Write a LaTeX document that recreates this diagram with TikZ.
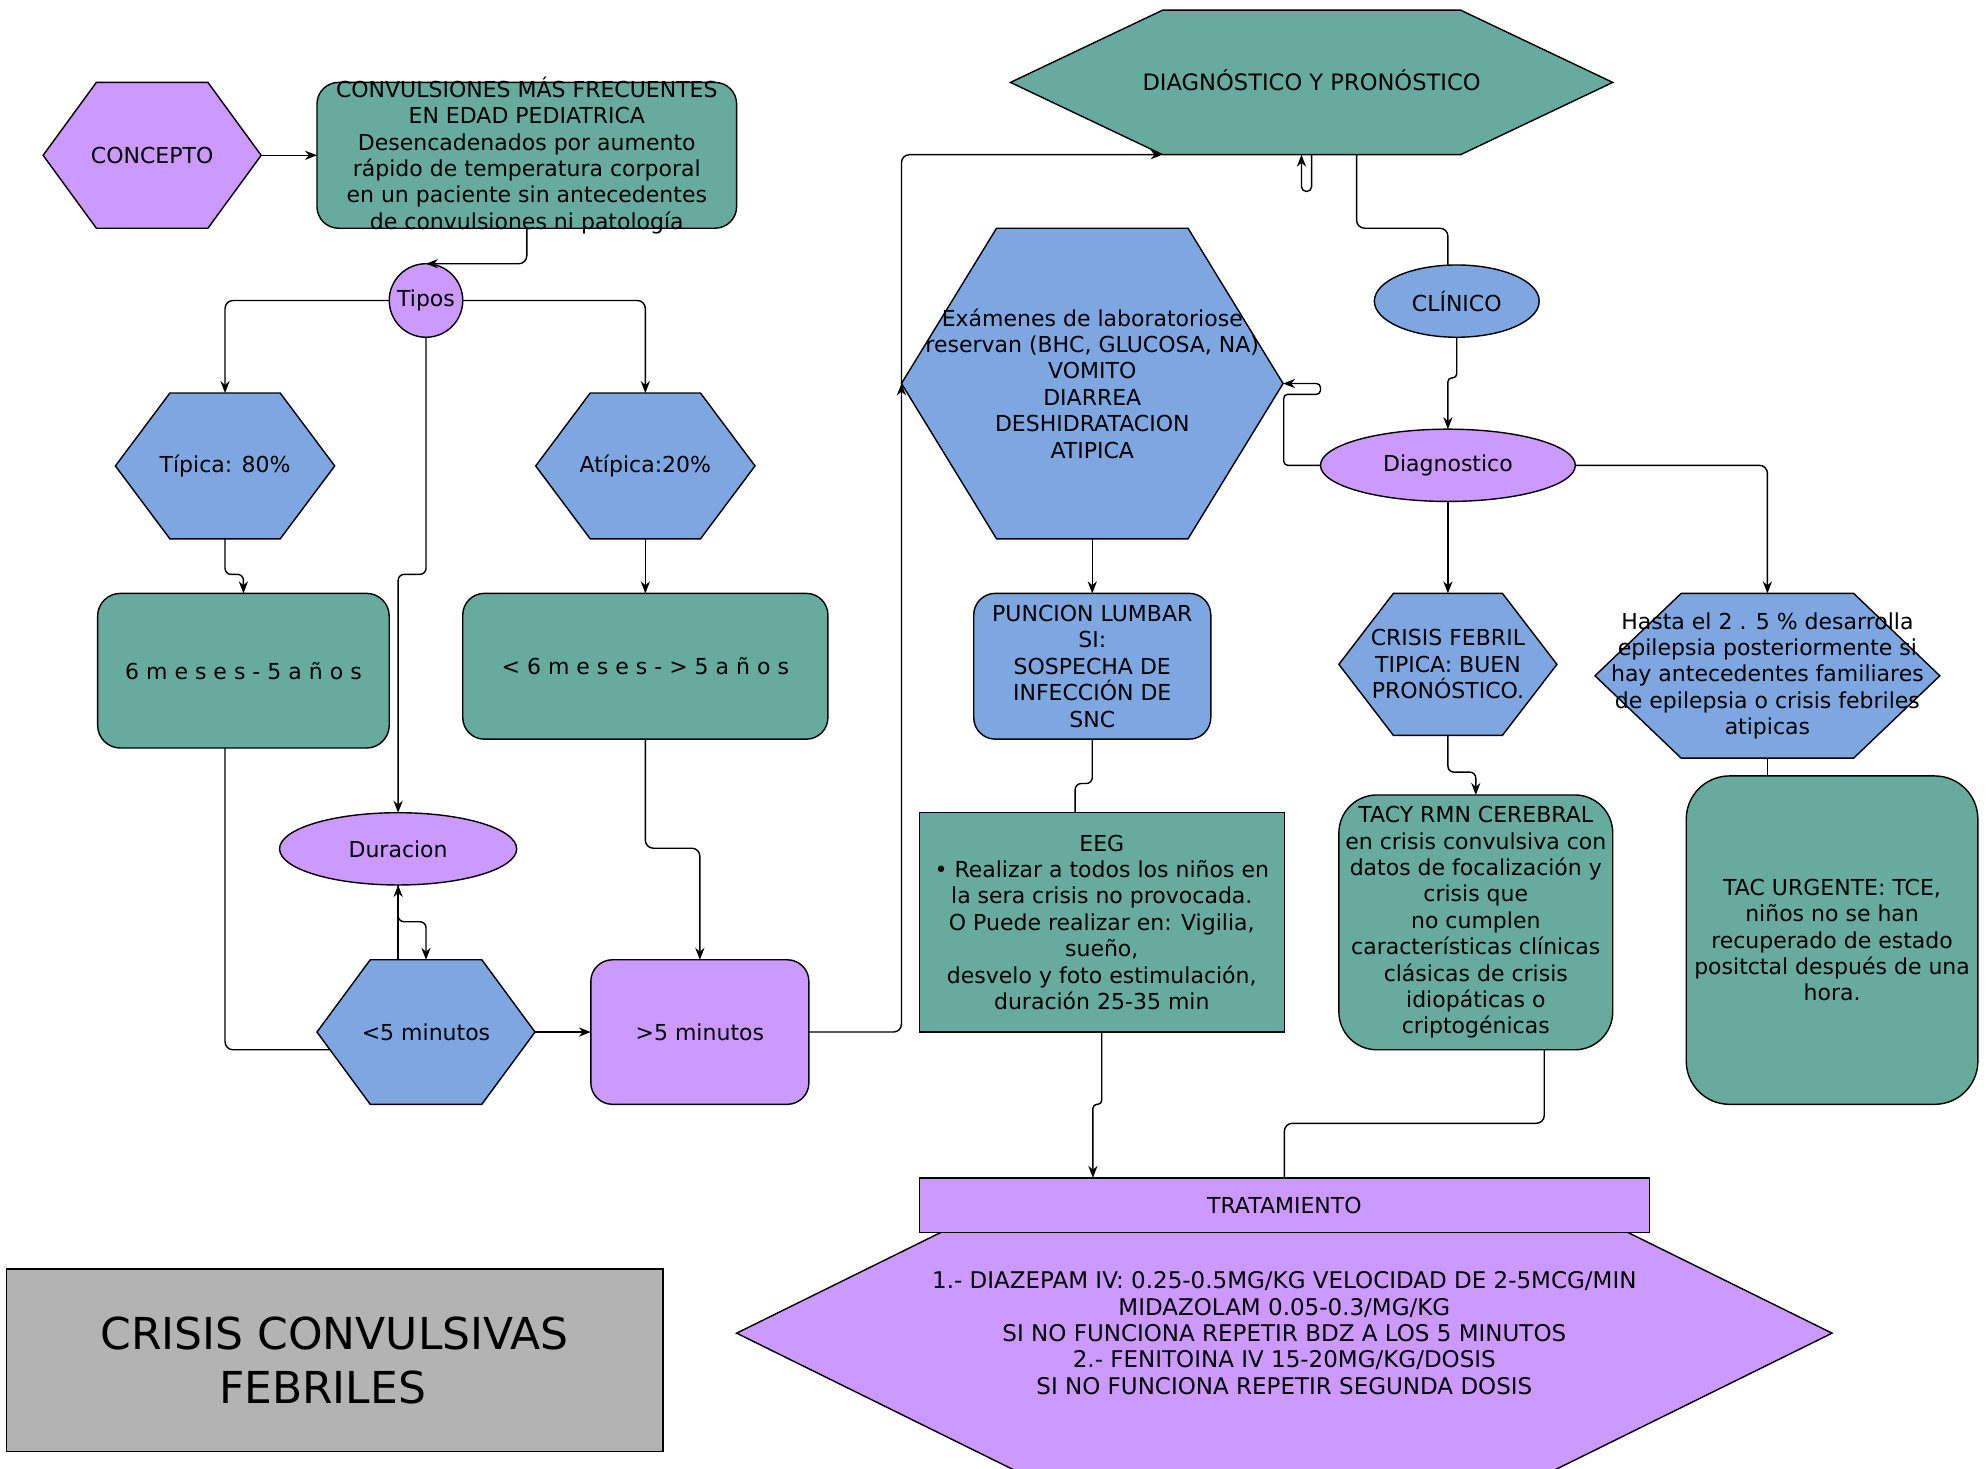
\documentclass[tikz,border=0pt]{standalone}
\usepackage{fontspec}
\setmainfont{DejaVu Sans}
\usetikzlibrary{arrows.meta,shapes.geometric,calc}
\definecolor{tealc}{HTML}{67AB9F}
\definecolor{purp}{HTML}{CC99FF}
\definecolor{blu}{HTML}{7EA6E0}
\definecolor{gry}{HTML}{B3B3B3}
\tikzset{
 ln/.style={line width=0.7pt},
 txt/.style={font=\fontsize{11}{13.2}\selectfont, align=center, inner sep=0pt},
 sz/.style 2 args={minimum width=#1*0.634pt, minimum height=#2*0.634pt},
 shp/.style={draw, ln, inner sep=0pt, outer sep=0pt},
 conn/.style={draw, ln, rounded corners=4pt},
 arr/.style={-{Stealth[length=6pt,width=4.6pt]}},
}
\newcommand\hexnode[8]{%
  \filldraw[ln, fill=#7] ({#2-#4/2},#3) -- ({#2-#4/2+#6},{#3-#5/2}) -- ({#2+#4/2-#6},{#3-#5/2})
    -- ({#2+#4/2},#3) -- ({#2+#4/2-#6},{#3+#5/2}) -- ({#2-#4/2+#6},{#3+#5/2}) -- cycle;
  \coordinate (#1-tl) at ({#2-#4/2+#6},{#3-#5/2});
  \coordinate (#1-bl) at ({#2-#4/2+#6},{#3+#5/2});
  \node[inner sep=0pt, outer sep=0pt, sz={#4}{#5}, label={[txt]center:{#8}}] (#1) at (#2,#3) {};
}
\begin{document}
\begin{tikzpicture}[x=0.634pt,y=-0.634pt]
\useasboundingbox (0,0) rectangle (1568,1158);
\clip (0,0) rectangle (1568,1158);
\fill[white] (0,0) rectangle (1568,1158);

% left column
\hexnode{concepto}{120}{122.5}{172}{115}{42}{purp}{CONCEPTO}
\node[shp, fill=tealc, rounded corners=10.8pt, sz={331}{115},
  label={[txt]center:{CONVULSIONES MÁS FRECUENTES\\EN EDAD PEDIATRICA\\Desencadenados por aumento\\rápido de temperatura corporal\\en un paciente sin antecedentes\\de convulsiones ni patología}}] (convul) at (415.5,122.5) {};
\node[shp, circle, fill=purp, minimum size=58*0.634pt, label={[txt]center:Tipos}] (tipos) at (336,237) {};
\hexnode{tipica}{177.5}{367.5}{173}{115}{43}{blu}{Típica: 80\%}
\hexnode{atipica}{509}{367.5}{173}{115}{43}{blu}{Atípica:20\%}
\node[shp, fill=tealc, rounded corners=11.4pt, sz={230}{122},
  label={[txt]center:{6 m e s e s - 5 a ñ o s}}] (meses1) at (192,529) {};
\node[shp, fill=tealc, rounded corners=10.8pt, sz={288}{115},
  label={[txt]center:{< 6 m e s e s - > 5 a ñ o s}}] (meses2) at (509,525.5) {};
\node[shp, ellipse, fill=purp, sz={187}{57}, label={[txt]center:Duracion}] (duracion) at (314,669.5) {};
\hexnode{menos5}{336}{814}{172}{114}{42}{blu}{<5 minutos}
\node[shp, fill=purp, rounded corners=10.8pt, sz={172}{114}, label={[txt]center:{>5 minutos}}] (mas5) at (552,814) {};

% right part
\hexnode{diag}{1034.5}{65}{475}{114}{120}{tealc}{\raisebox{2pt}{\fontsize{11.3}{13.2}\selectfont DIAGNÓSTICO Y PRONÓSTICO}}
\hexnode{exam}{861.5}{302.5}{301}{245}{75}{blu}{Exámenes de laboratoriose\\reservan (BHC, GLUCOSA, NA)\\VOMITO\\DIARREA\\DESHIDRATACION\\ATIPICA}
\node[shp, ellipse, fill=blu, sz={130}{57}, label={[txt]center:CLÍNICO}] (clinico) at (1149,237.5) {};
\node[shp, ellipse, fill=purp, sz={201}{57}, label={[txt]center:Diagnostico}] (diagn) at (1142,367) {};
\node[shp, fill=blu, rounded corners=10.8pt, sz={187}{115},
  label={[txt]center:{PUNCION LUMBAR\\SI:\\SOSPECHA DE\\INFECCIÓN DE\\SNC}}] (puncion) at (861.5,525.5) {};
\node[shp, fill=tealc, sz={288}{173},
  label={[txt]center:{EEG\\• Realizar a todos los niños en\\la sera crisis no provocada.\\O Puede realizar en: Vigilia,\\sueño,\\desvelo y foto estimulación,\\duración 25-35 min}}] (eeg) at (869,727.5) {};
\hexnode{crisis}{1142}{524}{172}{112}{43}{blu}{CRISIS FEBRIL\\TIPICA: BUEN\\PRONÓSTICO.}
\hexnode{hasta}{1394}{533}{272}{130}{68}{blu}{Hasta el 2 . 5 \% desarrolla\\epilepsia posteriormente si\\hay antecedentes familiares\\de epilepsia o crisis febriles\\atipicas}
\node[shp, fill=tealc, rounded corners=19pt, sz={216}{201},
  label={[txt]center:{TACY RMN CEREBRAL\\en crisis convulsiva con\\datos de focalización y\\crisis que\\no cumplen\\características clínicas\\clásicas de crisis\\idiopáticas o\\criptogénicas}}] (tacy) at (1164,727.5) {};
\node[shp, fill=tealc, rounded corners=21.6pt, sz={230}{259},
  label={[txt]center:{TAC URGENTE: TCE,\\niños no se han\\recuperado de estado\\positctal después de una\\hora.}}] (tacu) at (1445,741.5) {};

% treatment
\hexnode{treat}{1013}{1051.5}{864}{233.4}{236.6}{purp}{\fontsize{11.5}{13.2}\selectfont 1.- DIAZEPAM IV: 0.25-0.5MG/KG VELOCIDAD DE 2-5MCG/MIN\\\fontsize{11.5}{13.2}\selectfont MIDAZOLAM 0.05-0.3/MG/KG\\\fontsize{11.5}{13.2}\selectfont SI NO FUNCIONA REPETIR BDZ A LOS 5 MINUTOS\\\fontsize{11.5}{13.2}\selectfont 2.- FENITOINA IV 15-20MG/KG/DOSIS\\\fontsize{11.5}{13.2}\selectfont SI NO FUNCIONA REPETIR SEGUNDA DOSIS}
\node[shp, fill=purp, sz={576}{43}, label={[txt]center:TRATAMIENTO}] (trat) at (1013,950.5) {};

% title
\node[shp, fill=gry, sz={518}{144},
  label={[font=\fontsize{22}{26.6}\selectfont, align=center, inner sep=0pt]center:{CRISIS CONVULSIVAS\\FEBRILES\hbox to 0.55em{}}}] (title) at (264,1073) {};

% connectors
\draw[conn,arr] (concepto.east) -- (convul.west);
\draw[conn,arr] (convul.south) |- (tipos.north);
\draw[conn,arr] (tipos.west) -| (tipica.north);
\draw[conn,arr] (tipos.east) -| (atipica.north);
\draw[conn,arr,rounded corners=3pt] (tipos.south) -- ++(0,187) -| (duracion.north);
\draw[conn,arr,rounded corners=3pt] (tipica.south) -- ++(0,28) -| (meses1.north);
\draw[conn,arr] (atipica.south) -- (meses2.north);
\draw[conn] (tipica.south |- meses1.south) |- ($(menos5.west)+(10,14)$);
\draw[conn,arr] (duracion.south |- menos5.north) -- (duracion.south);
\draw[conn,arr,rounded corners=3pt] (duracion.south) -- ++(0,29) -| (menos5.north);
\draw[conn,arr] (menos5.east) -- (mas5.west);
\draw[conn,arr] (meses2.south) -- ++(0,86) -| (mas5.north);
\draw[conn,arr] (mas5.east) -| (exam.west);
\draw[conn,arr] (exam.west) |- (diag-bl);
\draw[ln,arr,rounded corners=2.4pt] (diag.south) -- ++(0,29) -- ++(-8,0) -- ++(0,-29);
\draw[conn] ($(diag.south)+(35.5,0)$) -- ++(0,58) -| ($(clinico.north)+(-7,0)$);
\draw[conn,arr,rounded corners=2pt] (clinico.south) -- ++(0,32) -| (diagn.north);
\draw[conn,arr,rounded corners=2pt] (diagn.west) -- ++(-29,0) -- ++(0,-56) -- ++(29,0) -- ++(0,-8.5) -- (exam.east);
\draw[conn,arr] (diagn.south) -- (crisis.north);
\draw[conn,arr] (diagn.east) -| (hasta.north);
\draw[conn,arr] (exam.south) -- (puncion.north);
\draw[conn,rounded corners=3pt] (puncion.south) -- ++(0,35) -| ($(eeg.north)+(-21,0)$);
\draw[conn,arr,rounded corners=2pt] (eeg.south) -- ++(0,57) -| ($(trat.north)+(-151,0)$);
\draw[conn] ($(tacy.south)+(54,0)$) -- ++(0,58) -| (trat.north);
\draw[conn,arr,rounded corners=3pt] (crisis.south) -- ++(0,29) -| (tacy.north);
\draw[conn] (hasta.south) -- (hasta.south |- tacu.north);
\end{tikzpicture}
\end{document}
